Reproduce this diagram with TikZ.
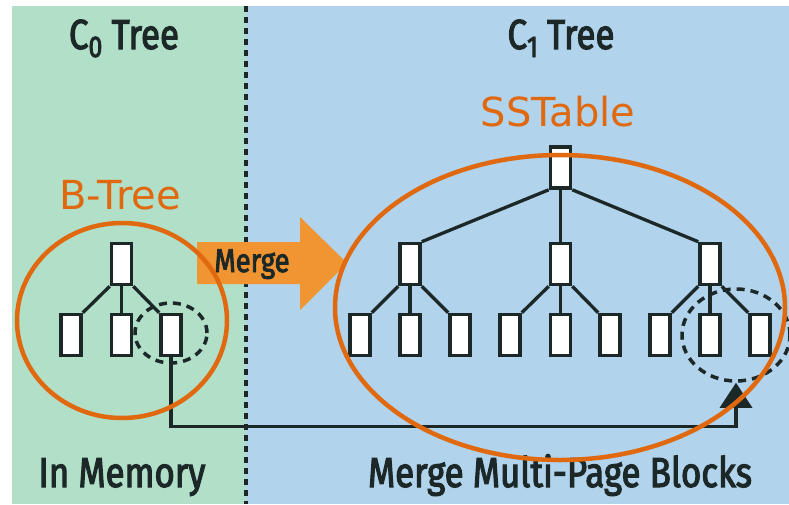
\documentclass[tikz,border=0pt]{standalone}
\usepackage{fontspec}
\newfontfamily\lblfont[FakeStretch=0.83,FakeBold=2.6]{Fira Sans}
\newfontfamily\notefont{DejaVu Sans}
\usetikzlibrary{arrows.meta,shapes.geometric}

\definecolor{memgreen}{HTML}{B2DFC8}
\definecolor{diskblue}{HTML}{B1D3EB}
\definecolor{hiorange}{HTML}{E0680F}
\definecolor{mergeorange}{HTML}{F19432}
\definecolor{ink}{HTML}{1C2828}

\tikzset{
  page/.style={draw=ink,line width=3.6pt,fill=white,minimum width=20pt,minimum height=41pt,inner sep=0pt},
  link/.style={draw=ink,line width=3.3pt},
  hold/.style={ellipse,draw=ink,line width=3.5pt,dash pattern=on 8pt off 6pt,inner sep=0pt},
  ring/.style={ellipse,draw=hiorange,line width=4.5pt,inner sep=0pt},
  heading/.style={font=\lblfont\fontsize{42}{42}\selectfont,text=ink,anchor=base,inner sep=0pt},
  note/.style={font=\notefont\fontsize{40}{40}\selectfont,text=hiorange,anchor=base,inner sep=0pt},
}

\begin{document}
\begin{tikzpicture}[x=1pt,y=-1pt]
\useasboundingbox (0,0) rectangle (789,504);
% panels
\fill[white] (0,0) rectangle (789,504);
\fill[memgreen] (12,6) rectangle (246,504);
\fill[diskblue] (246,6) rectangle (789,504);
\draw[ink,line width=4pt,dash pattern=on 6pt off 5pt] (246,6) -- (246,504);

% merge arrow
\fill[mergeorange] (197,242) -- (300,242) -- (300,217) -- (347,263) -- (300,310) -- (300,284) -- (197,284) -- cycle;
\node[heading,font=\lblfont\fontsize{33}{33}\selectfont,text=ink] (mg) at (252,272) {Merge};

% headings
\node[heading] (h0) at (124,49) {C{\fontsize{30}{30}\selectfont\raisebox{-8pt}{0}} Tree};
\node[heading] (h1) at (561,49) {C{\fontsize{30}{30}\selectfont\raisebox{-8pt}{1}} Tree};
\node[heading] (f0) at (122,487) {In Memory};
\node[heading] (f1) at (560,487) {Merge Multi-Page Blocks};

% annotations
\node[note] (nb) at (120,209) {B-Tree};
\node[note] (ns) at (558,126) {SSTable};

% C0 tree
\node[page] (a) at (121.5,264) {};
\node[page] (a1) at (71,335) {};
\node[page] (a2) at (121.5,335) {};
\node[page] (a3) at (171,335) {};
\draw[link] (a.south west) -- (a1.north east);
\draw[link] (a.south) -- (a2.north);
\draw[link] (a.south east) -- (a3.north west);

% C1 tree
\node[page] (b) at (560.5,167.5) {};
\node[page] (b1) at (410,264) {};
\node[page] (b2) at (560.5,264) {};
\node[page] (b3) at (710,264) {};
\foreach \p/\x in {1/360,2/410,3/460}{\node[page] (b1\p) at (\x,335) {};}
\foreach \p/\x in {1/510,2/560.5,3/610}{\node[page] (b2\p) at (\x,335) {};}
\foreach \p/\x in {1/660,2/710,3/760}{\node[page] (b3\p) at (\x,335) {};}
\draw[link] (b.south west) -- (b1.north east);
\draw[link] (b.south) -- (b2.north);
\draw[link] (b.south east) -- (b3.north west);
\foreach \m in {1,2,3}{
  \draw[link] (b\m.south west) -- (b\m1.north east);
  \draw[link] (b\m.south) -- (b\m2.north);
  \draw[link] (b\m.south east) -- (b\m3.north west);
}

% blocks being merged
\node[hold,minimum width=72pt,minimum height=60pt] (da) at (171,333) {};
\begin{scope}
\clip (0,0) rectangle (789,504);
\node[hold,minimum width=108pt,minimum height=92pt] (db) at (736,335) {};
\end{scope}
\draw[link,-{Triangle[length=25pt,width=32pt]}] (a3.south) -- ++(0,69) -| (db.south);

% highlight rings
\node[ring,minimum width=210pt,minimum height=195pt] (ra) at (122,320.5) {};
\node[ring,minimum width=450pt,minimum height=305pt] (rb) at (560,307.5) {};
\end{tikzpicture}
\end{document}
